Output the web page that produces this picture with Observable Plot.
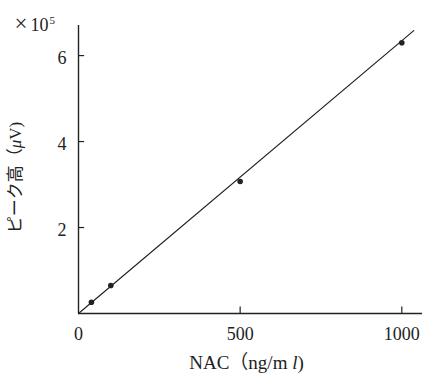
<!DOCTYPE html>
<html>
<head>
<meta charset="utf-8">
<script src="https://cdn.jsdelivr.net/npm/d3@7"></script>
<script src="https://cdn.jsdelivr.net/npm/@observablehq/plot@0.6"></script>
<style>
  html, body { margin: 0; padding: 0; background: #fff; }
  #chart { width: 422px; height: 376px; }
  #chart svg, #chart svg text { font-family: "Liberation Serif", "DejaVu Serif", "Noto Sans CJK JP", serif !important; }
</style>
</head>
<body>
<div id="chart"></div>
<script>
// Data
const concX = [40, 100, 500, 1000];          // NAC (ng/ml)
const peakY = [0.26, 0.65, 3.07, 6.30];      // peak height (×10^5 μV)
const fitX = [0, 1037];                      // calibration line ends
const fitY = [0, 6.58];
const xTicks = [0, 500, 1000];
const yTicks = [2, 4, 6];
const xLabel = "NAC（ng/m l)";   // "l" set in italic
const yLabel = "ピーク高（μV)";   // "μ" set in italic
const unitBase = "×10";
const unitExp = "5";

const points = concX.map((x, i) => ({x, y: peakY[i]}));
const fit = fitX.map((x, i) => ({x, y: fitY[i]}));

const ink = "#222";
const serif = '"Liberation Serif", "DejaVu Serif", "Noto Sans CJK JP", serif';

const chart = Plot.plot({
  width: 422,
  height: 376,
  marginLeft: 78,
  marginRight: 0,
  marginTop: 25,
  marginBottom: 63,
  style: {fontFamily: serif, fontSize: "17px", color: ink, background: "#fff"},
  x: {domain: [0, 1064]},
  y: {domain: [0, 6.7]},
  marks: [
    Plot.axisX(xTicks, {tickSize: 0, tickPadding: 14, fontSize: 18, label: null, tickFormat: d => String(d)}),
    Plot.axisY(yTicks, {tickSize: 0, tickPadding: 12, dy: 3, fontSize: 18, label: null, tickFormat: d => String(d)}),
    Plot.ruleX(xTicks.filter(d => d > 0), {y1: 0, y2: 0.15, stroke: ink, strokeWidth: 1.2}),
    Plot.ruleY(yTicks, {x1: 0, x2: 19, stroke: ink, strokeWidth: 1.2}),
    Plot.ruleX([0], {stroke: ink, strokeWidth: 1.4}),
    Plot.ruleY([0], {stroke: ink, strokeWidth: 1.4}),
    Plot.line(fit, {x: "x", y: "y", stroke: ink, strokeWidth: 1.2}),
    Plot.dot(points, {x: "x", y: "y", r: 2.8, fill: ink, stroke: "none"}),
    Plot.text([xLabel], {frameAnchor: "bottom", textAnchor: "middle", dx: -4, dy: 55, text: d => d, fontSize: 19, fill: ink}),
    Plot.text([yLabel], {frameAnchor: "left", textAnchor: "middle", dx: -63, dy: 8, rotate: -90, text: d => d, fontSize: 17, fill: ink}),
    Plot.text([unitBase], {frameAnchor: "top-left", dx: -64, dy: -7, textAnchor: "start", text: d => d, fontSize: 18, fill: ink})
  ]
});

// Italic letters, a larger times sign and the superscript exponent as tspans of the same text
const NS = "http://www.w3.org/2000/svg";
function span(txt, attrs) {
  const s = document.createElementNS(NS, "tspan");
  s.textContent = txt;
  for (const k in attrs) s.setAttribute(k, attrs[k]);
  return s;
}
function styleChar(t, str, ch) {
  const i = str.lastIndexOf(ch);
  t.textContent = "";
  t.append(span(str.slice(0, i), {}), span(ch, {"font-style": "italic"}), span(str.slice(i + 1), {}));
}
chart.querySelectorAll("text").forEach(t => {
  const s = t.textContent;
  if (s === xLabel) styleChar(t, xLabel, "l");
  else if (s === yLabel) styleChar(t, yLabel, "μ");
  else if (s === unitBase) {
    t.textContent = "";
    t.append(
      span(unitBase.slice(0, 1), {"font-size": "23"}),
      span(unitBase.slice(1), {"dx": "3"}),
      span(unitExp, {"font-size": "11", "dy": "-7", "dx": "1"})
    );
  }
});
document.getElementById("chart").appendChild(chart);
</script>
</body>
</html>
